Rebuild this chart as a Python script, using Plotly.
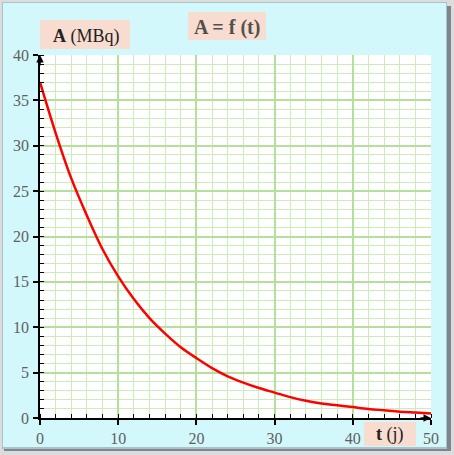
import plotly.graph_objects as go

# Data
t_days = [0, 2, 4, 6, 8, 10, 12, 14, 16, 18, 20, 22, 24, 26, 28, 30, 32, 34, 36, 38, 40, 42, 44, 46, 48, 50]
activity_mbq = [37.0, 31.4, 26.4, 22.3, 18.6, 15.6, 13.1, 11.0, 9.3, 7.8, 6.6, 5.5, 4.6, 3.9, 3.3,
                2.8, 2.3, 1.9, 1.6, 1.4, 1.2, 1.0, 0.85, 0.7, 0.6, 0.5]
x_ticks = [0, 10, 20, 30, 40, 50]
y_ticks = [0, 5, 10, 15, 20, 25, 30, 35, 40]

W, H = 454, 455
L, R, T, B = 40, 23, 55, 37
PW, PH = W - L - R, H - T - B


def px(x):
    return (x - L) / PW


def py(y):
    return (H - B - y) / PH


fig = go.Figure()
fig.add_trace(go.Scatter(x=t_days, y=activity_mbq, mode="lines",
                         line=dict(color="#ff0000", width=2.5, shape="spline"),
                         hoverinfo="skip", showlegend=False))

shapes = [
    # frame
    dict(type="rect", xref="paper", yref="paper", x0=px(4), x1=px(451), y0=py(451), y1=py(6),
         fillcolor="#7c868c", line=dict(width=0), layer="below"),
    dict(type="rect", xref="paper", yref="paper", x0=px(2), x1=px(447), y0=py(449), y1=py(2),
         fillcolor="#a9c4c8", line=dict(width=0), layer="below"),
    dict(type="rect", xref="paper", yref="paper", x0=px(3), x1=px(446), y0=py(447), y1=py(3),
         fillcolor="#d3f8fc", line=dict(width=0), layer="below"),
    # plot area white
    dict(type="rect", xref="x", yref="y", x0=0, x1=50, y0=0, y1=40,
         fillcolor="#ffffff", line=dict(width=0), layer="below"),
    # label boxes
    dict(type="rect", xref="paper", yref="paper", x0=px(40), x1=px(130), y0=py(49), y1=py(20),
         fillcolor="#f8dccf", line=dict(width=0)),
    dict(type="rect", xref="paper", yref="paper", x0=px(188), x1=px(266), y0=py(40), y1=py(12),
         fillcolor="#f8dccf", line=dict(width=0)),
    dict(type="rect", xref="paper", yref="paper", x0=px(364), x1=px(416), y0=py(446), y1=py(422),
         fillcolor="#f8dccf", line=dict(width=0)),
]

font_serif = "Liberation Serif, Times New Roman, serif"
annotations = [
    dict(xref="paper", yref="paper", x=px(86), y=py(36), text="<b>A</b> (MBq)", showarrow=False,
         font=dict(family=font_serif, size=18, color="#222222"), xanchor="center", yanchor="middle"),
    dict(xref="paper", yref="paper", x=px(227), y=py(27), text="<b>A = f (t)</b>", showarrow=False,
         font=dict(family=font_serif, size=20, color="#505050"), xanchor="center", yanchor="middle"),
    dict(xref="paper", yref="paper", x=px(390), y=py(434), text="<b>t</b> (j)", showarrow=False,
         font=dict(family=font_serif, size=18, color="#222222"), xanchor="center", yanchor="middle"),
    # axis arrows
    dict(x=0, y=40, xref="x", yref="y", ax=0, ay=12, text="",
         showarrow=True, arrowhead=2, arrowsize=1, arrowwidth=1.5, arrowcolor="#000000"),
    dict(x=50, y=0, xref="x", yref="y", ax=-12, ay=0, text="",
         showarrow=True, arrowhead=2, arrowsize=1, arrowwidth=1.5, arrowcolor="#000000"),
]

fig.update_layout(
    width=W, height=H,
    margin=dict(l=L, r=R, t=T, b=B, pad=0, autoexpand=False),
    paper_bgcolor="#dcdcdc",
    plot_bgcolor="rgba(0,0,0,0)",
    shapes=shapes,
    annotations=annotations,
    showlegend=False,
)

fig.update_xaxes(
    range=[0, 50], tickvals=x_ticks, ticktext=[str(v) for v in x_ticks],
    showgrid=True, gridcolor="#b5e09a", gridwidth=1.8,
    showline=True, linecolor="#000000", linewidth=1.5,
    ticks="outside", ticklen=5, tickwidth=1.5, tickcolor="#000000",
    minor=dict(dtick=2, showgrid=True, gridcolor="#cbedb9", gridwidth=1.3,
               ticks="inside", ticklen=4, tickwidth=1.2, tickcolor="#000000"),
    zeroline=False, fixedrange=True, ticklabelstandoff=0, automargin=False,
    tickfont=dict(family=font_serif, size=16, color="#606060"),
)
fig.update_yaxes(
    range=[0, 40], tickvals=y_ticks, ticktext=[str(v) for v in y_ticks],
    showgrid=True, gridcolor="#b5e09a", gridwidth=1.8,
    showline=True, linecolor="#000000", linewidth=1.5,
    ticks="outside", ticklen=5, tickwidth=1.5, tickcolor="#000000",
    minor=dict(dtick=1, showgrid=True, gridcolor="#cbedb9", gridwidth=1.3,
               ticks="inside", ticklen=4, tickwidth=1.2, tickcolor="#000000"),
    zeroline=False, fixedrange=True, ticklabelstandoff=1, automargin=False,
    tickfont=dict(family=font_serif, size=16, color="#606060"),
)

fig.write_html("out.html", config={"displayModeBar": False},
               post_script="document.body.style.margin='0';")
